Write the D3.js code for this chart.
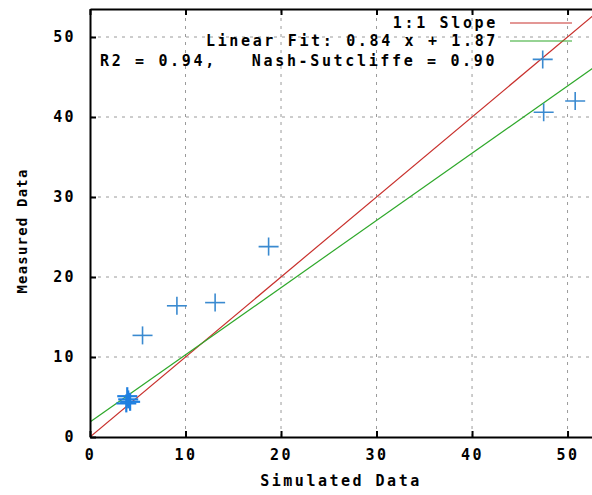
<!DOCTYPE html>
<html>
<head>
<meta charset="utf-8">
<script src="https://cdn.jsdelivr.net/npm/d3@7"></script>
<style>
  body { margin: 0; background: #fff; }
  svg text { font-family: "DejaVu Sans Mono", monospace; font-weight: bold; fill: #000; }
</style>
</head>
<body>
<div id="chart"></div>
<script>
const simulated = [3.8, 4.0, 4.2, 3.9, 5.5, 9.1, 13.1, 18.7, 47.4, 47.5, 50.8];
const measured  = [4.2, 4.7, 4.4, 5.1, 12.7, 16.4, 16.8, 23.8, 47.2, 40.6, 42.0];

const xTicks = [0, 10, 20, 30, 40, 50];
const yTicks = [0, 10, 20, 30, 40, 50];

const fitSlope = 0.84, fitIntercept = 1.87;
const legendLabels = ["1:1 Slope", "Linear Fit: 0.84 x + 1.87"];
const statsLabel = "R2 = 0.94,   Nash-Sutcliffe = 0.90";

const width = 592, height = 495;

const svg = d3.select("#chart").append("svg")
    .attr("width", width)
    .attr("height", height);

// Scales (plot runs past the right edge, as in the cropped original)
const x = d3.scaleLinear().domain([0, 55]).range([90, 615.3]);
const y = d3.scaleLinear().domain([0, 53.5]).range([437, 9]);

svg.append("defs").append("clipPath").attr("id", "plot")
   .append("rect")
   .attr("x", x(0)).attr("y", y(53.5))
   .attr("width", x(55) - x(0)).attr("height", y(0) - y(53.5));

// Grid
const grid = svg.append("g").attr("stroke", "#9a9a9a").attr("stroke-width", 1)
    .attr("stroke-dasharray", "3,5");
grid.selectAll(".gx").data(xTicks.filter(d => d > 0)).enter().append("line")
    .attr("x1", d => x(d)).attr("x2", d => x(d))
    .attr("y1", y(0)).attr("y2", y(53.5));
grid.selectAll(".gy").data(yTicks.filter(d => d > 0)).enter().append("line")
    .attr("x1", x(0)).attr("x2", x(55))
    .attr("y1", d => y(d)).attr("y2", d => y(d));

// Lines: 1:1 and fit
const plot = svg.append("g").attr("clip-path", "url(#plot)");
const line = d3.line().x(d => x(d[0])).y(d => y(d[1]));
plot.append("path")
    .attr("d", line([[0, 0], [55, 55]]))
    .attr("fill", "none").attr("stroke", "#c8302c").attr("stroke-width", 1.2);
plot.append("path")
    .attr("d", line([[0, fitIntercept], [55, fitSlope * 55 + fitIntercept]]))
    .attr("fill", "none").attr("stroke", "#2ea82a").attr("stroke-width", 1.2);

// Crosses
const pts = simulated.map((s, i) => [s, measured[i]]);
const cross = plot.selectAll(".pt").data(pts).enter().append("g")
    .attr("transform", d => `translate(${x(d[0])},${y(d[1])})`)
    .attr("stroke", (d, i) => i < 4 ? "#1f7fe0" : "#3a8ad0")
    .attr("stroke-width", (d, i) => i < 4 ? 2.2 : 1.6);
cross.append("line").attr("x1", -10).attr("x2", 10).attr("y1", 0).attr("y2", 0);
cross.append("line").attr("x1", 0).attr("x2", 0).attr("y1", -9).attr("y2", 9);

// Axes
const xAxis = svg.append("g")
    .attr("transform", `translate(0,${y(0)})`)
    .call(d3.axisBottom(x).tickValues(xTicks).tickSize(-6).tickPadding(12).tickSizeOuter(0));
const yAxis = svg.append("g")
    .attr("transform", `translate(${x(0)},0)`)
    .call(d3.axisLeft(y).tickValues(yTicks).tickSize(-6).tickPadding(14).tickSizeOuter(0));
// Ticks on the top border
svg.append("g")
    .attr("transform", `translate(0,${y(53.5)})`)
    .call(d3.axisTop(x).tickValues(xTicks).tickSize(-6).tickFormat("").tickSizeOuter(0));

svg.selectAll(".domain").attr("stroke", "#000").attr("stroke-width", 2);
svg.selectAll(".tick line").attr("stroke", "#000").attr("stroke-width", 2);
svg.selectAll(".tick text")
    .style("font-family", "DejaVu Sans Mono").style("font-weight", "bold")
    .style("font-size", "15px").style("letter-spacing", "2.4px").attr("fill", "#000");

// Axis titles
svg.append("text")
    .attr("x", 341).attr("y", 486)
    .attr("text-anchor", "middle")
    .style("font-size", "15px").style("letter-spacing", "2.5px")
    .text("Simulated Data");
svg.append("text")
    .attr("transform", "translate(27,231) rotate(-90)")
    .attr("text-anchor", "middle")
    .style("font-size", "14px").style("letter-spacing", "1.2px")
    .text("Measured Data");

// Legend
const legendColors = ["#c8302c", "#2ea82a"];
const legendY = [23, 41];
legendLabels.forEach((t, i) => {
  svg.append("text")
     .attr("x", 498).attr("y", legendY[i] + 5)
     .attr("text-anchor", "end")
     .style("font-size", "15px").style("letter-spacing", "2.65px")
     .text(t);
  svg.append("line")
     .attr("x1", 510).attr("x2", 572)
     .attr("y1", legendY[i]).attr("y2", legendY[i])
     .attr("stroke", legendColors[i]).attr("stroke-width", 1.2);
});
svg.append("text")
   .attr("x", 100).attr("y", 66)
   .style("font-size", "15px").style("letter-spacing", "2.65px")
   .style("white-space", "pre")
   .text(statsLabel);
</script>
</body>
</html>
